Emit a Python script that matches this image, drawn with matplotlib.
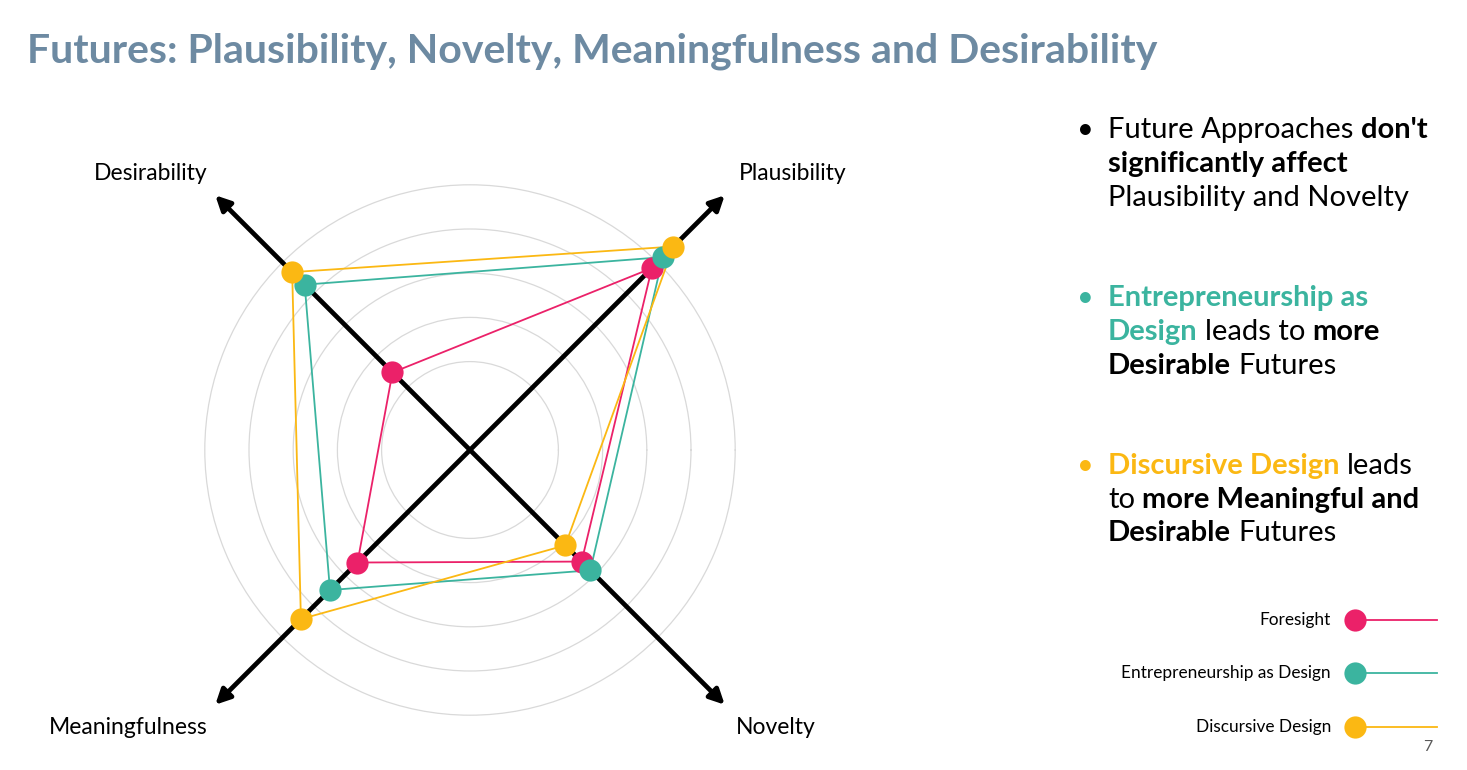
import numpy as np
import matplotlib
matplotlib.use("Agg")
import matplotlib.pyplot as plt

plt.rcParams['font.family'] = ['Lato', 'DejaVu Sans']

# ---------------- data ----------------
axis_labels = ['Plausibility', 'Desirability', 'Meaningfulness', 'Novelty']
axis_angles_deg = [45, 135, 225, 315]
series_names = ['Foresight', 'Entrepreneurship as Design', 'Discursive Design']
foresight = [5.82, 2.48, 3.60, 3.57]
entrepreneurship = [6.17, 5.29, 4.48, 3.85]
discursive = [6.51, 5.69, 5.41, 3.05]
ring_values = [2, 3, 4, 5, 6]

colors = ['#EB2169', '#3BB49F', '#FBB813']
title_color = '#6D8AA2'

W, H = 1467, 770
fig = plt.figure(figsize=(W / 100, H / 100), dpi=100)

def fx(px):
    return px / W

def fy(py):
    return 1 - py / H

# ---------------- radar ----------------
cx, cy = 470, 450
unit_px = 44.2
rmax = 8.4
R = rmax * unit_px
ax = fig.add_axes([fx(cx - R), fy(cy + R), 2 * R / W, 2 * R / H], projection='polar')
ax.set_ylim(0, rmax)
ax.set_rgrids(ring_values, labels=[''] * len(ring_values))
ax.yaxis.grid(True, color='#D9D9D9', lw=0.9)
ax.set_xticks([])
ax.xaxis.grid(False)
ax.spines['polar'].set_visible(False)
ax.patch.set_alpha(0)

theta = np.deg2rad(axis_angles_deg)
arrow_r = 8.15
for t in theta[:2]:
    ax.annotate('', xy=(t, arrow_r), xytext=(t + np.pi, arrow_r),
                arrowprops=dict(arrowstyle='<|-|>', lw=3.4, color='black',
                                mutation_scale=22, shrinkA=0, shrinkB=0),
                zorder=2)

all_series = [foresight, entrepreneurship, discursive]
for vals, c in zip(all_series, colors):
    th = np.append(theta, theta[0])
    rr = np.append(vals, vals[0])
    ax.plot(th, rr, color=c, lw=1.3, zorder=3, clip_on=False)
for vals, c in zip(all_series, colors):
    ax.plot(theta, vals, 'o', color=c, ms=16, mec='none', zorder=4, clip_on=False)

label_pos = {'Plausibility': (793, 174), 'Desirability': (151, 174),
             'Meaningfulness': (128, 728), 'Novelty': (776, 728)}
for lab in axis_labels:
    x, y = label_pos[lab]
    fig.text(fx(x), fy(y), lab, fontsize=16.5, ha='center', va='center', color='black')

# ---------------- title ----------------
fig.text(fx(27), fy(62), 'Futures: Plausibility, Novelty, Meaningfulness and Desirability',
         fontsize=29.5, fontweight='bold', color=title_color, ha='left', va='baseline')

# ---------------- rich bullet text ----------------
renderer = fig.canvas.get_renderer()
fs_b = 21

def text_width(s, weight):
    t = fig.text(0, 0, s, fontsize=fs_b, fontweight=weight)
    w = t.get_window_extent(renderer).width
    t.remove()
    return w

space_w = {w: text_width('a a', w) - text_width('aa', w) for w in ('normal', 'bold')}

def rich_line(x, y, pieces):
    for i, (s, weight, col) in enumerate(pieces):
        if i > 0:
            x += space_w[weight]
        t = fig.text(fx(x), fy(y), s, fontsize=fs_b, fontweight=weight, color=col,
                     ha='left', va='baseline')
        x += t.get_window_extent(renderer).width

K = 'black'
teal, yel = colors[1], colors[2]
bullets = [
    (K, [138, 172, 206], [
        [('Future Approaches', 'normal', K), ("don't", 'bold', K)],
        [('significantly affect', 'bold', K)],
        [('Plausibility and Novelty', 'normal', K)]]),
    (teal, [306, 340, 374], [
        [('Entrepreneurship as', 'bold', teal)],
        [('Design', 'bold', teal), ('leads to', 'normal', K), ('more', 'bold', K)],
        [('Desirable', 'bold', K), ('Futures', 'normal', K)]]),
    (yel, [474, 508, 541], [
        [('Discursive Design', 'bold', yel), ('leads', 'normal', K)],
        [('to', 'normal', K), ('more Meaningful and', 'bold', K)],
        [('Desirable', 'bold', K), ('Futures', 'normal', K)]]),
]
for bcol, ys, lines in bullets:
    fig.text(fx(1077), fy(ys[0]), '•', fontsize=fs_b, color=bcol, ha='left', va='baseline')
    for y, pieces in zip(ys, lines):
        rich_line(1108, y, pieces)

# ---------------- legend ----------------
lax = fig.add_axes([fx(1100), fy(750), fx(1440) - fx(1100), (750 - 600) / H])
lax.set_xlim(1100, 1440)
lax.set_ylim(750, 600)
lax.axis('off')
legend_y = [620, 673, 727]
for name, c, y in zip(series_names, colors, legend_y):
    lax.plot([1355, 1437], [y, y], color=c, lw=1.3)
    lax.plot([1355], [y], 'o', color=c, ms=16, mec='none')
    lax.text(1331, y, name, fontsize=12.4, ha='right', va='center', color='black')

fig.text(fx(1428), fy(747), '7', fontsize=11.5, color='#595959', ha='center', va='center')

fig.savefig('out.png', dpi=100)
